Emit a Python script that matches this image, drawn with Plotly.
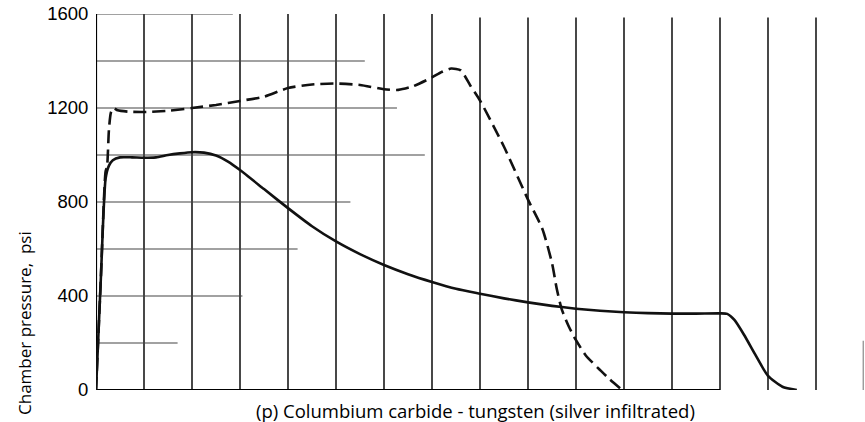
import plotly.graph_objects as go

# ---- data ----
time_solid = [0, 0.1, 0.2, 0.27, 0.35, 0.5, 0.75, 1.0, 1.25, 1.5, 1.75, 2.0, 2.25, 2.5, 2.75,
              3.0, 3.5, 4.0, 4.5, 5.0, 5.5, 6.0, 6.5, 7.0, 7.5, 8.0, 8.5, 9.0, 9.5, 10.0,
              10.5, 11.0, 11.5, 12.0, 12.5, 13.0, 13.15, 13.3, 13.5, 13.75, 14.0, 14.3, 14.6]
pressure_solid = [0, 470, 900, 955, 978, 990, 990, 988, 990, 1000, 1007, 1012, 1010, 998, 972,
                  936, 855, 774, 697, 632, 578, 532, 493, 460, 431, 410, 390, 373, 358, 346,
                  337, 331, 327, 325, 325, 326, 324, 298, 235, 145, 60, 14, 0]

time_dashed = [0, 0.1, 0.2, 0.23, 0.27, 0.31, 0.36, 0.45, 0.7, 1.0, 1.5, 2.0, 2.5, 3.0, 3.5,
               4.0, 4.5, 5.0, 5.5, 6.0, 6.3, 6.6, 7.0, 7.2, 7.4, 7.6, 7.8, 8.0, 8.5, 9.0,
               9.3, 9.5, 9.6, 9.7, 9.85, 10.0, 10.2, 10.45, 10.7, 10.96]
pressure_dashed = [0, 470, 930, 950, 1110, 1180, 1200, 1190, 1184, 1183, 1188, 1200, 1213, 1230, 1248,
                   1285, 1300, 1304, 1298, 1280, 1277, 1292, 1330, 1353, 1368, 1360, 1295, 1232, 1035, 810,
                   685, 540, 430, 345, 270, 212, 148, 95, 46, 0]

y_ticks = [0, 400, 800, 1200, 1600]
y_tick_labels = ["0", "400", "800", "1200", "1600"]

y_title = "Chamber pressure,  psi"
caption = "(p) Columbium carbide - tungsten (silver infiltrated)"

# ---- grid layout (as drawn on the original sheet) ----
vertical_grid = list(range(1, 16))
hgrid_levels = [200, 400, 600, 800, 1000, 1200, 1400, 1600]
hgrid_ends = [1.7, 3.05, 4.2, 5.3, 6.85, 6.27, 5.6, 2.85]
baseline_end = 13

fig = go.Figure()

fig.add_trace(go.Scatter(
    x=time_solid, y=pressure_solid, mode="lines",
    line=dict(color="#111111", width=2.6, shape="spline", smoothing=0.6),
    showlegend=False, hoverinfo="skip"))

fig.add_trace(go.Scatter(
    x=time_dashed, y=pressure_dashed, mode="lines",
    line=dict(color="#111111", width=2.6, shape="spline", smoothing=0.6, dash="13px,6px"),
    showlegend=False, hoverinfo="skip"))

shapes = []
for v in vertical_grid:
    y_bot = -15 if v >= 14 else 0
    y_top = 1600 if v <= 7 else 1585
    shapes.append(dict(type="line", xref="x", yref="y", x0=v, x1=v, y0=y_bot, y1=y_top,
                       line=dict(color="#1a1a1a", width=1.6), layer="below"))
for lvl, end in zip(hgrid_levels, hgrid_ends):
    shapes.append(dict(type="line", xref="x", yref="y", x0=0, x1=end, y0=lvl, y1=lvl,
                       line=dict(color="#444444", width=1.2), layer="below"))
# axes lines
shapes.append(dict(type="line", xref="x", yref="y", x0=0, x1=0, y0=0, y1=1600,
                   line=dict(color="#000000", width=2.2), layer="below"))
shapes.append(dict(type="line", xref="x", yref="y", x0=0, x1=baseline_end, y0=0, y1=0,
                   line=dict(color="#000000", width=2.2), layer="below"))
# scan edge fragment at right border
shapes.append(dict(type="line", xref="paper", yref="y", x0=0.999, x1=0.999, y0=-30, y1=210,
                   line=dict(color="#888888", width=1.2), layer="below"))

fig.update_layout(
    width=865, height=422, autosize=False,
    margin=dict(l=96, r=1, t=14, b=32, pad=0),
    paper_bgcolor="white", plot_bgcolor="white",
    shapes=shapes,
    xaxis=dict(range=[0, 16], showgrid=False, zeroline=False, showline=False,
               showticklabels=False, ticks="", automargin=False),
    yaxis=dict(range=[0, 1600], showgrid=False, zeroline=False, showline=False,
               automargin=False,
               tickvals=y_ticks, ticktext=y_tick_labels, ticks="outside", ticklen=3,
               tickcolor="rgba(0,0,0,0)",
               tickfont=dict(family="Liberation Sans Narrow, Arial Narrow, sans-serif",
                             size=18.5, color="#000000")),
    annotations=[
        dict(text=y_title, xref="paper", yref="paper", x=(24 - 96) / 768, y=(390 - 323) / 376,
             textangle=-90, showarrow=False, xanchor="center", yanchor="middle",
             font=dict(family="Open Sans, Liberation Sans, sans-serif", size=17, color="#000000")),
        dict(text=caption, xref="paper", yref="paper", x=(475 - 96) / 768, y=-0.016,
             showarrow=False, xanchor="center", yanchor="top",
             font=dict(family="Open Sans, Liberation Sans, sans-serif", size=18.5, color="#000000")),
    ],
)

fig.write_html("out.html", config={"displayModeBar": False},
               post_script="document.body.style.margin='0';document.body.style.overflow='hidden';")
